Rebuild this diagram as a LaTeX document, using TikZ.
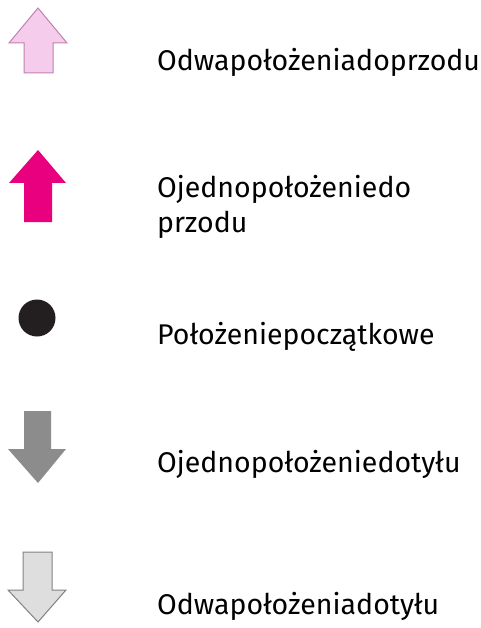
\documentclass[tikz,border=0pt]{standalone}
\usepackage{fontspec}
\setmainfont{Fira Sans}
\usepackage{tikz}
\definecolor{lightpink}{RGB}{246,204,236}
\definecolor{pinkline}{RGB}{190,130,175}
\definecolor{magenta}{RGB}{232,0,126}
\definecolor{dotblack}{RGB}{35,31,32}
\definecolor{midgray}{RGB}{140,140,140}
\definecolor{lightgray}{RGB}{222,222,222}
\definecolor{grayline}{RGB}{130,130,130}
\tikzset{
    x=1pt,y=-1pt,
    label/.style={anchor=base west,font=\fontsize{28.5}{35}\selectfont,align=left,inner sep=0pt},
    twoup/.style={draw=pinkline,fill=lightpink,line width=1pt,line join=miter},
    oneup/.style={fill=magenta},
    start/.style={circle,fill=dotblack,minimum size=37pt,inner sep=0pt},
    onedown/.style={fill=midgray},
    twodown/.style={draw=grayline,fill=lightgray,line width=1pt,line join=miter}
}

\begin{document}
\begin{tikzpicture}
  \useasboundingbox (0,0) rectangle (481,628);

  \draw[twoup] (24,73) -- (24,43) -- (9,43) -- (38,8) -- (67,43) -- (53,43) -- (53,73) -- cycle;
  \fill[oneup] (24,222) -- (24,183) -- (9,183) -- (38,150) -- (66,183) -- (52,183) -- (52,222) -- cycle;
  \node[start] (dot) at (37,318) {};
  \fill[onedown] (24,411) -- (51,411) -- (51,449) -- (66,449) -- (38,483) -- (8,449) -- (24,449) -- cycle;
  \draw[twodown] (23,552) -- (52,552) -- (52,590) -- (66,590) -- (38,622) -- (8,590) -- (23,590) -- cycle;

  \node[label] (twof) at (157,71)  {Odwapołożeniadoprzodu};
  \node[label] (onef) at (157,232) {Ojednopołożeniedo\\przodu};
  \node[label] (init) at (157,344) {Położeniepoczątkowe};
  \node[label] (oneb) at (157,472) {Ojednopołożeniedotyłu};
  \node[label] (twob) at (157,614) {Odwapołożeniadotyłu};
\end{tikzpicture}
\end{document}
